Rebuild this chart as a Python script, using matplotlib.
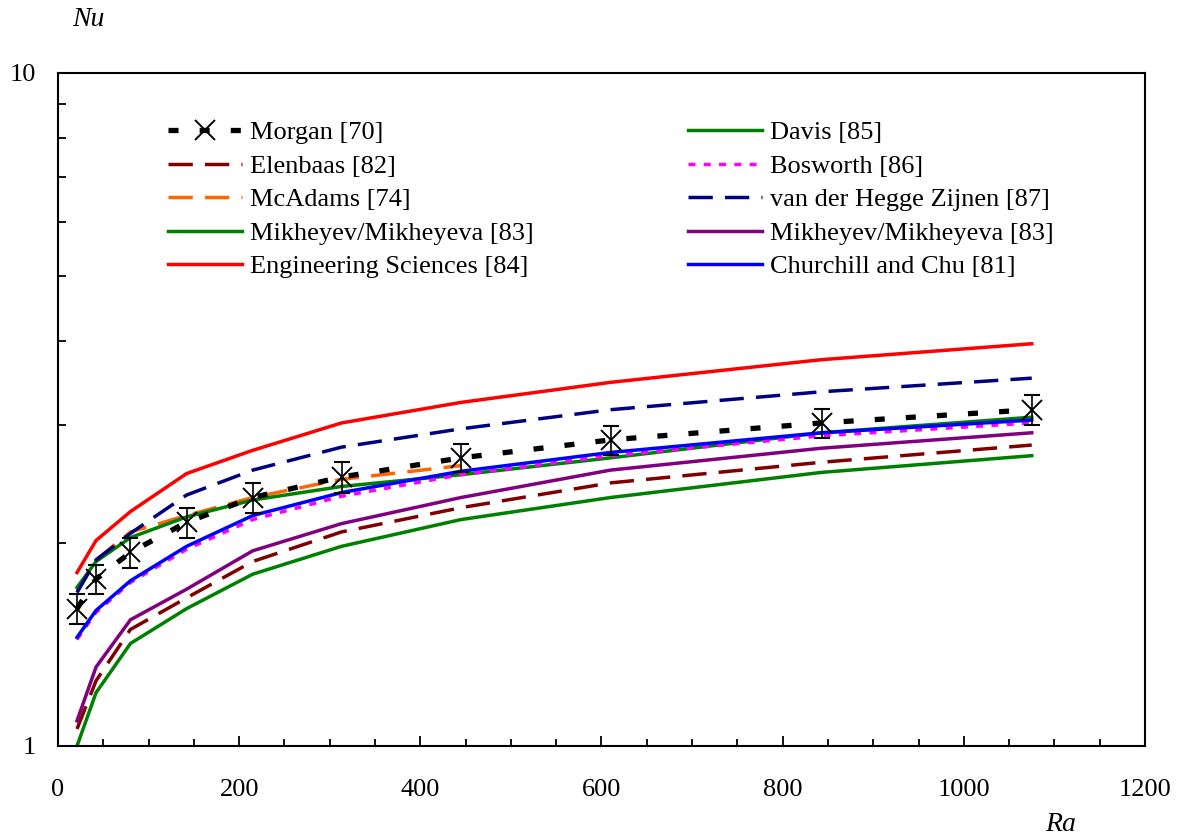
import numpy as np
import matplotlib
matplotlib.use("Agg")
import matplotlib.pyplot as plt
from matplotlib.ticker import MultipleLocator, LogLocator, NullFormatter

plt.rcParams['font.family'] = ['Liberation Serif', 'DejaVu Serif']
plt.rcParams['font.size'] = 19

# Rayleigh numbers at which everything was evaluated
ra = [21, 42, 80, 142, 215, 313, 445, 610, 843, 1075]

# Morgan [70] experimental points with error bars
morgan = [1.60, 1.77, 1.94, 2.15, 2.34, 2.51, 2.68, 2.85, 3.02, 3.16]
morgan_err = [0.08, 0.09, 0.10, 0.11, 0.12, 0.13, 0.13, 0.14, 0.15, 0.16]

# correlations
elenbaas = [1.06, 1.25, 1.49, 1.66, 1.88, 2.08, 2.26, 2.46, 2.64, 2.80]
mcadams_ra = [21, 42, 80, 142, 215, 313, 445]
mcadams = [1.70, 1.89, 2.08, 2.20, 2.34, 2.49, 2.61]
mikheyev_a = [1.72, 1.88, 2.04, 2.19, 2.32, 2.43, 2.53, 2.68, 2.92, 3.08]
eng_sciences = [1.81, 2.02, 2.23, 2.54, 2.75, 3.02, 3.24, 3.47, 3.75, 3.96]
davis = [1.00, 1.20, 1.42, 1.60, 1.80, 1.98, 2.17, 2.34, 2.55, 2.70]
bosworth = [1.44, 1.58, 1.75, 1.96, 2.17, 2.35, 2.53, 2.70, 2.89, 3.02]
hegge_zijnen = [1.69, 1.89, 2.07, 2.36, 2.57, 2.78, 2.96, 3.16, 3.36, 3.52]
mikheyev_b = [1.09, 1.31, 1.54, 1.71, 1.95, 2.14, 2.34, 2.57, 2.77, 2.92]
churchill = [1.45, 1.59, 1.76, 1.98, 2.20, 2.38, 2.56, 2.73, 2.92, 3.05]

fig = plt.figure(figsize=(11.81, 8.38), dpi=100)
ax = fig.add_axes([0.0491, 0.1098, 0.9204, 0.8031])

lw = 2.5
dash = (7, 3.5)

h_elen, = ax.plot(ra, elenbaas, color='#800000', lw=lw, dashes=dash, label='Elenbaas [82]')
h_mcad, = ax.plot(mcadams_ra, mcadams, color='#FF6600', lw=lw, dashes=dash, label='McAdams [74]')
h_mika, = ax.plot(ra, mikheyev_a, color='#008000', lw=lw, label='Mikheyev/Mikheyeva [83]')
h_eng, = ax.plot(ra, eng_sciences, color='#FF0000', lw=lw, label='Engineering Sciences [84]')
h_dav, = ax.plot(ra, davis, color='#008000', lw=lw, label='Davis [85]')
h_bos, = ax.plot(ra, bosworth, color='#FF00FF', lw=lw, dashes=(2.0, 2.4), label='Bosworth [86]')
h_heg, = ax.plot(ra, hegge_zijnen, color='#000080', lw=lw, dashes=dash, label='van der Hegge Zijnen [87]')
h_mikb, = ax.plot(ra, mikheyev_b, color='#800080', lw=lw, label='Mikheyev/Mikheyeva [83]')
h_chu, = ax.plot(ra, churchill, color='#0000FF', lw=lw, label='Churchill and Chu [81]')

ax.errorbar(ra, morgan, yerr=morgan_err, fmt='none', ecolor='black',
            elinewidth=1.2, capsize=6, capthick=1.5, zorder=5)
h_mor, = ax.plot(ra, morgan, color='black', lw=3.8, dashes=(1.9, 4.0),
                 dash_capstyle='butt', marker='x', markersize=14, mew=1.4,
                 label='Morgan [70]', zorder=6)

handles = [h_mor, h_elen, h_mcad, h_mika, h_eng, h_dav, h_bos, h_heg, h_mikb, h_chu]
ax.legend(handles=handles, loc='upper left', bbox_to_anchor=(0.101, 0.929),
          ncol=2, frameon=False, handlelength=2.8, handletextpad=0.3,
          columnspacing=5.85, labelspacing=0.38, borderpad=0, borderaxespad=0,
          fontsize=19)

ax.set_xlim(0, 1200)
ax.set_yscale('log')
ax.set_ylim(1, 10)
ax.xaxis.set_major_locator(MultipleLocator(200))
ax.xaxis.set_minor_locator(MultipleLocator(50))
ax.set_yticks([1, 10], ['1', '10'])
ax.yaxis.set_minor_locator(LogLocator(base=10, subs=np.arange(2, 10)))
ax.yaxis.set_minor_formatter(NullFormatter())

for s in ax.spines.values():
    s.set_linewidth(1.5)
ax.tick_params(axis='x', which='major', direction='in', length=7, width=1.3, pad=24, labelsize=19)
ax.tick_params(axis='x', which='minor', direction='in', length=5, width=1.3)
ax.tick_params(axis='y', which='major', direction='in', length=6, width=1.3, pad=16, labelsize=19)
ax.tick_params(axis='y', which='minor', direction='in', length=6, width=1.3)

fig.text(88 / 1181, 1 - 20 / 838, 'Nu', style='italic', fontsize=20, ha='center', va='center')
fig.text(1061 / 1181, 1 - 831 / 838, 'Ra', style='italic', fontsize=20, ha='center', va='baseline')

fig.savefig('out.png', dpi=100)
